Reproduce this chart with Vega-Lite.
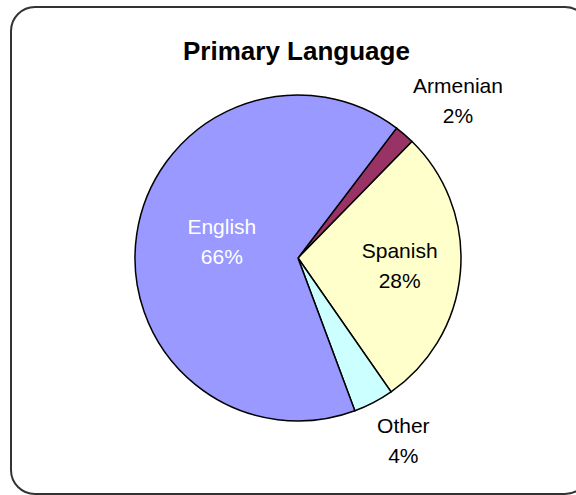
{
  "$schema": "https://vega.github.io/schema/vega-lite/v6.json",
  "width": 578,
  "height": 487,
  "autosize": {"type": "none"},
  "padding": {"left": 11, "top": 7, "right": 0, "bottom": 1},
  "background": "white",
  "view": {"stroke": "#333333", "strokeWidth": 2, "cornerRadius": 24, "fill": "white"},
  "title": {
    "text": "Primary Language",
    "font": "Liberation Sans",
    "fontSize": 26,
    "fontWeight": "bold",
    "color": "black",
    "anchor": "start",
    "baseline": "alphabetic",
    "offset": -79,
    "dx": 172
  },
  "data": {
    "values": [
      {"lang": "Armenian", "pct": 2, "idx": 1, "label": "Armenian\n2%"},
      {"lang": "Spanish", "pct": 28, "idx": 2, "label": "Spanish\n28%"},
      {"lang": "Other", "pct": 4, "idx": 3, "label": "Other\n4%"},
      {"lang": "English", "pct": 66, "idx": 4, "label": "English\n66%"}
    ]
  },
  "encoding": {
    "theta": {"field": "pct", "type": "quantitative", "stack": true, "scale": {"range": [0.649, 6.9322]}},
    "order": {"field": "idx", "type": "quantitative"}
  },
  "layer": [
    {
      "mark": {"type": "arc", "outerRadius": 163, "stroke": "black", "strokeWidth": 1.5, "xOffset": -2, "yOffset": 7.5},
      "encoding": {
        "color": {
          "field": "lang",
          "type": "nominal",
          "scale": {"domain": ["Armenian", "Spanish", "Other", "English"], "range": ["#993366", "#FFFFCC", "#CCFFFF", "#9999FF"]},
          "legend": null
        }
      }
    },
    {
      "mark": {"type": "text", "radius": 77, "font": "Liberation Sans", "fontSize": 21, "lineHeight": 30, "lineBreak": "\n", "align": "center", "baseline": "middle", "color": "white", "xOffset": -2, "yOffset": 7.5, "dy": -19},
      "encoding": {"text": {"condition": {"test": "datum.lang === 'English'", "field": "label"}, "value": ""}}
    },
    {
      "mark": {"type": "text", "radius": 102, "font": "Liberation Sans", "fontSize": 21, "lineHeight": 30, "lineBreak": "\n", "align": "center", "baseline": "middle", "color": "black", "xOffset": -2, "yOffset": 7.5, "dy": -15},
      "encoding": {"text": {"condition": {"test": "datum.lang === 'Spanish'", "field": "label"}, "value": ""}}
    },
    {
      "mark": {"type": "text", "radius": 225, "font": "Liberation Sans", "fontSize": 21, "lineHeight": 30, "lineBreak": "\n", "align": "center", "baseline": "middle", "color": "black", "xOffset": -2, "yOffset": 7.5, "dx": 13, "dy": -1},
      "encoding": {"text": {"condition": {"test": "datum.lang === 'Armenian'", "field": "label"}, "value": ""}}
    },
    {
      "mark": {"type": "text", "radius": 210, "font": "Liberation Sans", "fontSize": 21, "lineHeight": 30, "lineBreak": "\n", "align": "center", "baseline": "middle", "color": "black", "xOffset": -2, "yOffset": 7.5, "dx": 8, "dy": -17},
      "encoding": {"text": {"condition": {"test": "datum.lang === 'Other'", "field": "label"}, "value": ""}}
    }
  ]
}
